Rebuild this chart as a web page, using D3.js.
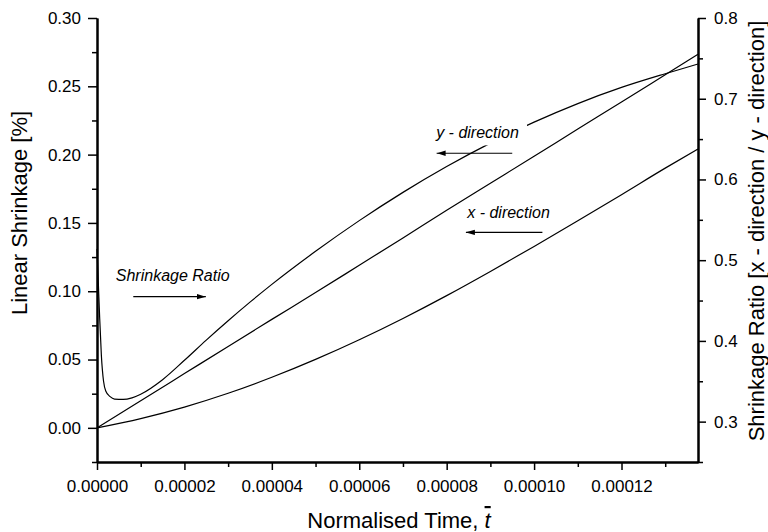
<!DOCTYPE html>
<meta charset="utf-8">
<html>
<!-- Load d3.js -->
<script src="https://d3js.org/d3.v7.min.js"></script>
<style>
    body { margin: 0; background: #fff; }
    text { font-family: "Liberation Sans", Arial, sans-serif; fill: #000; }
    .axis path, .axis line { stroke: #000; }
    .axis path { stroke-width: 2; }
    .axis line { stroke-width: 1.5; }
    .axis text { font-size: 17px; }
</style>
<title>Linear shrinkage and shrinkage ratio</title>

<body>
<div id="chart"></div>
<script>

    // Values
    // time axis shared by the two shrinkage curves
    var timeShrink = [0, 0.00001, 0.00002, 0.00003, 0.00004, 0.00005, 0.00006, 0.00007,
        0.00008, 0.00009, 0.00010, 0.00011, 0.00012, 0.00013, 0.0001375];
    // y - direction linear shrinkage [%] (left axis)
    var yDirection = [0, 0.0198, 0.0397, 0.0596, 0.0794, 0.0990, 0.1190, 0.1390,
        0.1592, 0.1790, 0.1988, 0.2187, 0.2385, 0.2585, 0.2735];
    // x - direction linear shrinkage [%] (left axis)
    var xDirection = [0, 0.0068, 0.0152, 0.0253, 0.0370, 0.0501, 0.0645, 0.0801,
        0.0968, 0.1145, 0.1328, 0.1516, 0.1707, 0.1901, 0.2041];

    // shrinkage ratio (right axis), denser near t = 0 for the spike
    var timeRatio = [0, 0.0000003, 0.0000006, 0.000001, 0.0000015, 0.000002, 0.000003,
        0.000004, 0.000006, 0.000008, 0.00001, 0.000015, 0.00002, 0.000025, 0.00003,
        0.000035, 0.00004, 0.00005, 0.00006, 0.00007, 0.00008, 0.00009, 0.00010,
        0.00011, 0.00012, 0.00013, 0.0001375];
    var shrinkRatio = [0.514, 0.472, 0.430, 0.382, 0.350, 0.338, 0.331,
        0.328, 0.3275, 0.3295, 0.334, 0.352, 0.376, 0.401, 0.425,
        0.448, 0.470, 0.511, 0.549, 0.584, 0.616, 0.645, 0.671,
        0.694, 0.714, 0.731, 0.743];

    // Tick values
    var xTicks = [0, 0.00002, 0.00004, 0.00006, 0.00008, 0.00010, 0.00012];
    var xMinorTicks = [0.00001, 0.00003, 0.00005, 0.00007, 0.00009, 0.00011, 0.00013];
    var leftTicks = [0, 0.05, 0.10, 0.15, 0.20, 0.25, 0.30];
    var leftMinorTicks = [-0.025, 0.025, 0.075, 0.125, 0.175, 0.225, 0.275];
    var rightTicks = [0.3, 0.4, 0.5, 0.6, 0.7, 0.8];
    var rightMinorTicks = [0.25, 0.35, 0.45, 0.55, 0.65, 0.75];

    // Annotations, placed in data units (t, left axis value)
    var labels = [
        { text: "Shrinkage Ratio", t: 0.0000043, v: 0.1077, box: false },
        { text: "y - direction", t: 0.0000776, v: 0.2119, box: true },
        { text: "x - direction", t: 0.0000847, v: 0.1534, box: false }
    ];
    var arrows = [
        { t0: 0.0000083, t1: 0.0000249, v: 0.096 },
        { t0: 0.0000950, t1: 0.0000777, v: 0.201 },
        { t0: 0.0001019, t1: 0.0000844, v: 0.1431 }
    ];

    // Set the dimensions of the graph
    var width = 768, height = 532;
    var plot = { left: 97, right: 698, top: 18, bottom: 462 };

    var svg = d3.select("#chart")
        .append("svg")
        .attr("width", width)
        .attr("height", height);

    // Scales
    var x = d3.scaleLinear().domain([0, 0.0001375]).range([plot.left, plot.right]);
    var yLeft = d3.scaleLinear().domain([-0.025, 0.30]).range([plot.bottom, plot.top]);
    var yRight = d3.scaleLinear().domain([0.25, 0.80]).range([plot.bottom, plot.top]);

    // Curves
    var line = d3.line()
        .x(function (d) { return x(d[0]); })
        .y(function (d) { return d[1]; })
        .curve(d3.curveMonotoneX);

    var series = [
        timeShrink.map(function (t, i) { return [t, yLeft(yDirection[i])]; }),
        timeShrink.map(function (t, i) { return [t, yLeft(xDirection[i])]; }),
        timeRatio.map(function (t, i) { return [t, yRight(shrinkRatio[i])]; })
    ];

    svg.selectAll(".curve")
        .data(series)
        .enter()
        .append("path")
        .attr("class", "curve")
        .attr("fill", "none")
        .attr("stroke", "#000")
        .attr("stroke-width", 1.2)
        .attr("d", line);

    // Labels (the y - direction one hides the curve behind it)
    labels.forEach(function (d) {
        var g = svg.append("g");
        var txt = g.append("text")
            .attr("x", x(d.t))
            .attr("y", yLeft(d.v))
            .style("font-size", "16px")
            .style("font-style", "italic")
            .text(d.text);
        if (d.box) {
            var bb = txt.node().getBBox();
            g.insert("rect", "text")
                .attr("x", bb.x - 4)
                .attr("y", bb.y - 1)
                .attr("width", bb.width + 12)
                .attr("height", bb.height + 5)
                .attr("fill", "#fff");
        }
    });

    // Arrow heads
    svg.append("defs").append("marker")
        .attr("id", "head")
        .attr("viewBox", "0 0 10 6")
        .attr("refX", 10)
        .attr("refY", 3)
        .attr("markerUnits", "userSpaceOnUse")
        .attr("markerWidth", 9)
        .attr("markerHeight", 6)
        .attr("orient", "auto")
        .append("path")
        .attr("d", "M0,0 L10,3 L0,6 Z")
        .attr("fill", "#000");

    svg.selectAll(".arrow")
        .data(arrows)
        .enter()
        .append("line")
        .attr("class", "arrow")
        .attr("x1", function (d) { return x(d.t0); })
        .attr("x2", function (d) { return x(d.t1); })
        .attr("y1", function (d) { return yLeft(d.v); })
        .attr("y2", function (d) { return yLeft(d.v); })
        .attr("stroke", "#000")
        .attr("stroke-width", 1.2)
        .attr("marker-end", "url(#head)");

    // X axis
    svg.append("g")
        .attr("class", "axis")
        .attr("transform", "translate(0," + plot.bottom + ")")
        .call(d3.axisBottom(x).tickValues(xMinorTicks).tickSize(5).tickSizeOuter(0).tickFormat(""));
    svg.append("g")
        .attr("class", "axis")
        .attr("transform", "translate(0," + plot.bottom + ")")
        .call(d3.axisBottom(x).tickValues(xTicks).tickSize(8).tickSizeOuter(0)
            .tickPadding(10).tickFormat(d3.format(".5f")));

    // Left Y axis
    svg.append("g")
        .attr("class", "axis")
        .attr("transform", "translate(" + plot.left + ",0)")
        .call(d3.axisLeft(yLeft).tickValues(leftMinorTicks).tickSize(5).tickSizeOuter(0).tickFormat(""));
    svg.append("g")
        .attr("class", "axis")
        .attr("transform", "translate(" + plot.left + ",0)")
        .call(d3.axisLeft(yLeft).tickValues(leftTicks).tickSize(9).tickSizeOuter(0)
            .tickPadding(7).tickFormat(d3.format(".2f")));

    // Right Y axis
    svg.append("g")
        .attr("class", "axis")
        .attr("transform", "translate(" + plot.right + ",0)")
        .call(d3.axisRight(yRight).tickValues(rightMinorTicks).tickSize(5).tickSizeOuter(0).tickFormat(""));
    svg.append("g")
        .attr("class", "axis")
        .attr("transform", "translate(" + plot.right + ",0)")
        .call(d3.axisRight(yRight).tickValues(rightTicks).tickSize(8).tickSizeOuter(0)
            .tickPadding(8).tickFormat(d3.format(".1f")));

    // Axis titles
    var xTitle = svg.append("text")
        .attr("x", 399)
        .attr("y", 528)
        .attr("text-anchor", "middle")
        .style("font-size", "22px")
        .text("Normalised Time, ");
    xTitle.append("tspan")
        .style("font-style", "italic")
        .style("text-decoration", "overline")
        .text("t");

    svg.append("text")
        .attr("transform", "translate(27,213) rotate(-90)")
        .attr("text-anchor", "middle")
        .style("font-size", "22px")
        .text("Linear Shrinkage [%]");

    svg.append("text")
        .attr("transform", "translate(764,231) rotate(-90)")
        .attr("text-anchor", "middle")
        .style("font-size", "22px")
        .text("Shrinkage Ratio [x - direction / y - direction]");

</script>
</body>

</html>
